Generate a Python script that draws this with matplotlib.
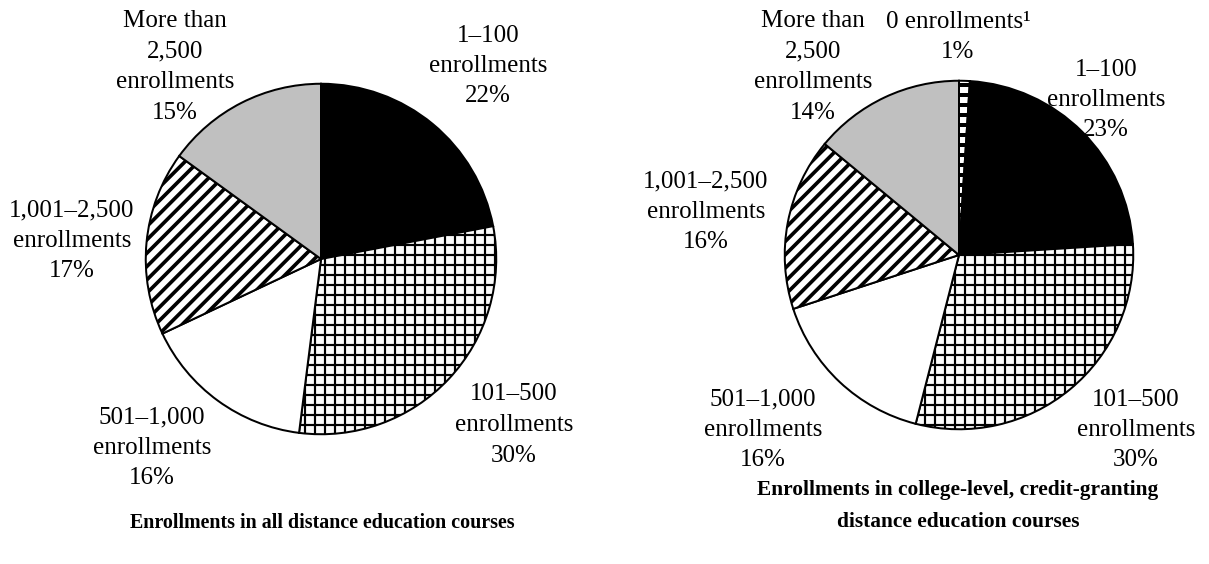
import matplotlib
matplotlib.use("Agg")
import matplotlib.pyplot as plt

# --- data ---
left_sizes = [22, 30, 16, 17, 15]
left_labels = ["1–100\nenrollments\n22%",
               "101–500\nenrollments\n30%",
               "501–1,000\nenrollments\n16%",
               "1,001–2,500\nenrollments\n17%",
               "More than\n2,500\nenrollments\n15%"]

right_sizes = [1, 23, 30, 16, 16, 14]
right_labels = ["0 enrollments¹\n1%",
                "1–100\nenrollments\n23%",
                "101–500\nenrollments\n30%",
                "501–1,000\nenrollments\n16%",
                "1,001–2,500\nenrollments\n16%",
                "More than\n2,500\nenrollments\n14%"]

left_title = "Enrollments in all distance education courses"
right_title = "Enrollments in college-level, credit-granting\ndistance education courses"

# fill / hatch per category
STYLE = {
    "0":     dict(fc="white",   hatch="--",  hlw=2.4),
    "1-100": dict(fc="black",   hatch=None,  hlw=1.0),
    "101":   dict(fc="#fbfbfb", hatch="++",  hlw=1.3),
    "501":   dict(fc="white",   hatch=None,  hlw=1.0),
    "1001":  dict(fc="white",   hatch="///", hlw=2.2),
    "2500":  dict(fc="#c0c0c0", hatch=None,  hlw=1.0),
}
left_keys = ["1-100", "101", "501", "1001", "2500"]
right_keys = ["0", "1-100", "101", "501", "1001", "2500"]

W, H, DPI = 1209, 564, 120
plt.rcParams["font.family"] = ["Liberation Serif", "DejaVu Serif"]

fig = plt.figure(figsize=(W / DPI, H / DPI), dpi=DPI)


def px(x, y):
    return x / W, 1 - y / H


def draw_pie(cx, cy, r, sizes, keys):
    ax = fig.add_axes([(cx - r) / W, 1 - (cy + r) / H, 2 * r / W, 2 * r / H])
    wedges, _ = ax.pie(sizes, startangle=90, counterclock=False,
                       colors=[STYLE[k]["fc"] for k in keys],
                       wedgeprops=dict(edgecolor="black", linewidth=1.2))
    for w, k in zip(wedges, keys):
        st = STYLE[k]
        if st["hatch"]:
            w.set_hatch(st["hatch"])
            if hasattr(w, "set_hatch_linewidth"):
                w.set_hatch_linewidth(st["hlw"])
            else:
                w._hatch_linewidth = st["hlw"]
    ax.set_xlim(-1.01, 1.01)
    ax.set_ylim(-1.01, 1.01)
    ax.set_aspect("equal")
    ax.axis("off")
    return ax


draw_pie(321, 259, 177, left_sizes, left_keys)
draw_pie(959, 255, 176, right_sizes, right_keys)

fs = 15
ls = 1.5
# label centres in pixels
left_pos = [(488, 66), (514, 425), (152, 448), (72, 241), (175, 67)]
right_pos = [(958, 37), (1106, 100), (1136, 430), (763, 430), (706, 212), (813, 67)]

for txt, (x, y) in zip(left_labels, left_pos):
    fig.text(*px(x, y), txt, ha="center", va="center", fontsize=fs, linespacing=ls)
for txt, (x, y) in zip(right_labels, right_pos):
    fig.text(*px(x, y), txt, ha="center", va="center", fontsize=fs, linespacing=ls)

fig.text(*px(322, 523), left_title, ha="center", va="center",
         fontsize=12.0, fontweight="bold")
fig.text(*px(958, 506), right_title, ha="center", va="center",
         fontsize=12.8, fontweight="bold", linespacing=1.75)

fig.savefig("out.png", dpi=DPI)
